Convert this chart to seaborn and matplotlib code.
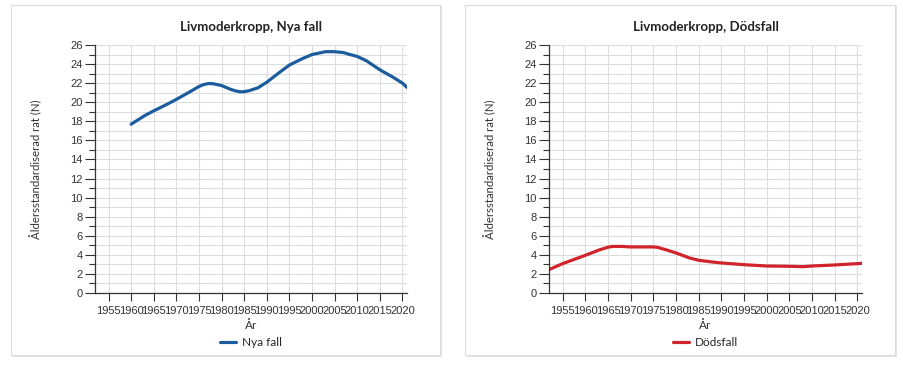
import pandas as pd
import numpy as np
import matplotlib
matplotlib.use('Agg')
import matplotlib.pyplot as plt
from matplotlib.patches import Rectangle
from matplotlib.ticker import MultipleLocator
import seaborn as sns

# Nya fall (new cases), age standardised rate
nya_years = [1960, 1963, 1965, 1968, 1970, 1973, 1975, 1976, 1977, 1978, 1980, 1982, 1983,
             1984, 1985, 1986, 1988, 1990, 1993, 1995, 1998, 2000, 2002, 2003, 2005, 2007,
             2008, 2010, 2012, 2015, 2018, 2020, 2021]
nya_vals = [17.7, 18.6, 19.1, 19.8, 20.3, 21.1, 21.65, 21.85, 21.95, 21.95, 21.75, 21.35, 21.2,
            21.1, 21.1, 21.2, 21.5, 22.1, 23.2, 23.9, 24.6, 25.0, 25.2, 25.3, 25.3, 25.2,
            25.05, 24.8, 24.35, 23.4, 22.6, 22.0, 21.55]

# Dödsfall (deaths)
dod_years = [1952, 1955, 1958, 1960, 1963, 1965, 1966, 1968, 1970, 1975, 1976, 1978, 1980,
             1983, 1985, 1988, 1990, 1995, 2000, 2005, 2008, 2010, 2015, 2020, 2021]
dod_vals = [2.45, 3.08, 3.6, 3.95, 4.5, 4.8, 4.88, 4.88, 4.83, 4.83, 4.78, 4.5, 4.2,
            3.67, 3.43, 3.25, 3.15, 2.97, 2.83, 2.8, 2.76, 2.83, 2.94, 3.08, 3.11]

titles = ['Livmoderkropp, Nya fall', 'Livmoderkropp, Dödsfall']
labels = ['Nya fall', 'Dödsfall']
colors = ['#1b5c9e', '#d0232b']
xticks = list(range(1955, 2021, 5))

sns.set_style('white')
plt.rcParams['font.family'] = ['Liberation Sans', 'DejaVu Sans']

W, H = 904, 366
fig = plt.figure(figsize=(W / 100, H / 100), dpi=100)

def px(x0, y0, x1, y1):
    return [x0 / W, 1 - y1 / H, (x1 - x0) / W, (y1 - y0) / H]

# cards
for cx0, cx1 in [(11, 440), (465, 895)]:
    fig.patches.append(Rectangle(((cx0 + 2) / W, 1 - 357 / H), (cx1 - cx0) / W, 352 / H,
                                 transform=fig.transFigure, facecolor='#e4e4e4',
                                 edgecolor='none', zorder=-10))
    fig.patches.append(Rectangle((cx0 / W, 1 - 355 / H), (cx1 - cx0) / W, 350 / H,
                                 transform=fig.transFigure, facecolor='white',
                                 edgecolor='#dcdcdc', linewidth=0.8, zorder=-9))

frames = [pd.DataFrame({'År': nya_years, 'rate': nya_vals, 'serie': labels[0]}),
          pd.DataFrame({'År': dod_years, 'rate': dod_vals, 'serie': labels[1]})]
boxes = [(95, 45, 407, 293), (549, 45, 862, 293)]

for df, box, title, col, lab in zip(frames, boxes, titles, colors, labels):
    ax = fig.add_axes(px(*box))
    ax.set_zorder(1)
    ax.set_facecolor('none')
    sns.lineplot(data=df, x='År', y='rate', hue='serie', palette=[col], ax=ax,
                 linewidth=2.3, legend=False)
    ax.set_xlim(1952, 2021)
    ax.set_ylim(0, 26)
    ax.set_xticks(xticks)
    ax.set_xticklabels([str(t) for t in xticks], fontsize=8, color='#333333')
    ax.yaxis.set_major_locator(MultipleLocator(2))
    ax.yaxis.set_minor_locator(MultipleLocator(1))
    ax.tick_params(axis='y', which='major', length=7, width=0.8, color='#333333',
                   labelsize=8, labelcolor='#333333', pad=2, left=True)
    ax.tick_params(axis='y', which='minor', length=4, width=0.8, color='#333333', left=True)
    ax.tick_params(axis='x', which='major', length=6, width=0.8, color='#333333',
                   pad=3, bottom=True)
    ax.grid(True, axis='x', which='major', color='#dddddd', linewidth=0.8)
    ax.grid(True, axis='y', which='both', color='#dddddd', linewidth=0.8)
    for s in ['top', 'right']:
        ax.spines[s].set_visible(False)
    for s in ['left', 'bottom']:
        ax.spines[s].set_color('#333333')
        ax.spines[s].set_linewidth(0.9)
    ax.set_xlabel('År', fontsize=8.5, family='Lato', color='#333333', labelpad=3)
    ax.set_ylabel('Åldersstandardiserad rat (N)', fontsize=8.2, family='Lato',
                  color='#333333', labelpad=20)
    ax.set_title(title, fontsize=9.5, family='Lato', fontweight='bold', color='#222222', pad=10)
    handle = plt.Line2D([], [], color=col, linewidth=2.3)
    ax.legend([handle], [lab], loc='upper center', bbox_to_anchor=(0.5, -0.135),
              frameon=False, handlelength=1.3, handletextpad=0.5,
              prop={'family': 'Lato', 'size': 8.5})

fig.savefig('out.png', dpi=100, facecolor='white')
